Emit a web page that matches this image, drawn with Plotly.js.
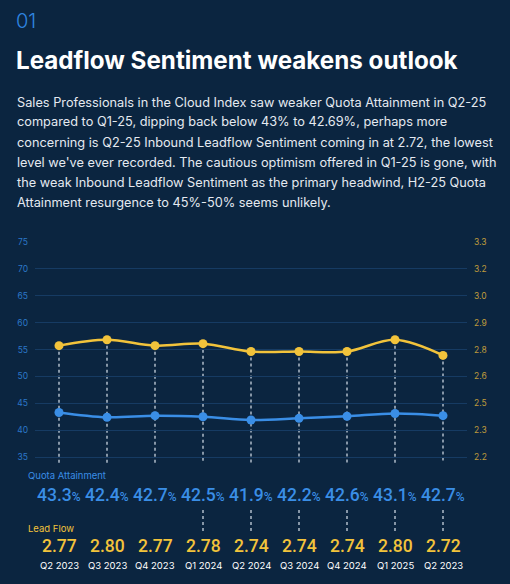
<!DOCTYPE html>
<html>
<head>
<meta charset="utf-8">
<script src="https://cdn.plot.ly/plotly-3.0.1.min.js"></script>
<style>
  html, body { margin:0; padding:0; background:#0b2540; }
  #chart { width:510px; height:584px; }
</style>
</head>
<body>
<div id="chart"></div>
<script>
// ---------- data ----------
const quarters = ['Q2 2023','Q3 2023','Q4 2023','Q1 2024','Q2 2024','Q3 2024','Q4 2024','Q1 2025','Q2 2023'];
const quotaAttainment = [43.3, 42.4, 42.7, 42.5, 41.9, 42.2, 42.6, 43.1, 42.7];
const leadFlow = [2.77, 2.80, 2.77, 2.78, 2.74, 2.74, 2.74, 2.80, 2.72];
const leftTicks = [35, 40, 45, 50, 55, 60, 65, 70, 75];
const rightTickLabels = ['2.2','2.3','2.5','2.6','2.8','2.9','3.0','3.2','3.3'];
const lowerConnector = [false, false, false, true, true, true, true, true, true];
const headerNumber = '01';
const titleText = 'Leadflow Sentiment weakens outlook';
const paragraphLines = [
  'Sales Professionals in the Cloud Index saw weaker Quota Attainment in Q2-25',
  'compared to Q1-25, dipping back below 43% to 42.69%, perhaps more',
  'concerning is Q2-25 Inbound Leadflow Sentiment coming in at 2.72, the lowest',
  "level we've ever recorded. The cautious optimism offered in Q1-25 is gone, with",
  'the weak Inbound Leadflow Sentiment as the primary headwind, H2-25 Quota',
  'Attainment resurgence to 45%-50% seems unlikely.'
];

// ---------- layout geometry ----------
const W = 510, H = 584;
const M = {l: 35, r: 43, t: 242, b: 121};
const PW = W - M.l - M.r, PH = H - M.t - M.b;
const px2x = px => (px - M.l) / PW;
const py2y = py => (H - M.b - py) / PH;

const leftRange = [33.9, 75];
const rMin = 2.2, rMax = 3.3;
const toRight = v => rMin + (v - leftTicks[0]) / (leftTicks[leftTicks.length-1] - leftTicks[0]) * (rMax - rMin);
const rightRange = [toRight(leftRange[0]), rMax];
const rightTickVals = rightTickLabels.map((_, i) => rMin + i * (rMax - rMin) / (rightTickLabels.length - 1));

const idx = quarters.map((_, i) => i);

const BLUE = '#3a8ee6', YELLOW = '#f2c33b', BG = '#0b2540';
const FONT = 'Inter, "Noto Sans", sans-serif';
const NUMFONT = 'Roboto, Inter, sans-serif';

const traces = [
  {
    x: idx, y: quotaAttainment, type: 'scatter', mode: 'lines+markers',
    line: {color: BLUE, width: 2.5, shape: 'spline'},
    marker: {color: BLUE, size: 9},
    hoverinfo: 'skip', yaxis: 'y'
  },
  {
    x: idx, y: leadFlow, type: 'scatter', mode: 'lines+markers',
    line: {color: YELLOW, width: 2.5, shape: 'spline'},
    marker: {color: YELLOW, size: 9},
    hoverinfo: 'skip', yaxis: 'y2'
  }
];

const DOT = {color: 'rgba(205,214,226,0.85)', width: 1.5, dash: 'dot'};
const shapes = [];
idx.forEach(i => {
  shapes.push({
    type: 'line', xref: 'x', yref: 'y2', x0: i, x1: i,
    y0: leadFlow[i], y1: rightRange[0], line: DOT, layer: 'below'
  });
  if (lowerConnector[i]) {
    shapes.push({
      type: 'line', xref: 'x', yref: 'paper', x0: i, x1: i,
      y0: py2y(510), y1: py2y(532), line: DOT
    });
  }
});

const ann = [];
ann.push({xref:'paper', yref:'paper', x: px2x(14), y: py2y(21), xanchor:'left', yanchor:'middle',
  text: headerNumber, showarrow:false, font:{family: FONT, size: 20, color: '#2f86e0', weight: 300}});
ann.push({xref:'paper', yref:'paper', x: px2x(14), y: py2y(60), xanchor:'left', yanchor:'middle',
  text: '<b>' + titleText + '</b>', showarrow:false, font:{family: FONT, size: 24.2, color: '#ffffff'}});
paragraphLines.forEach((ln, i) => {
  ann.push({xref:'paper', yref:'paper', x: px2x(15), y: py2y(102 + i * 20), xanchor:'left', yanchor:'middle',
    text: ln, showarrow:false, font:{family: FONT, size: 12.75, color: '#e4e9f0'}});
});
ann.push({xref:'paper', yref:'paper', x: px2x(26), y: py2y(475), xanchor:'left', yanchor:'middle',
  text: 'Quota Attainment', showarrow:false, font:{family: FONT, size: 9.5, color: BLUE}});
ann.push({xref:'paper', yref:'paper', x: px2x(26), y: py2y(528), xanchor:'left', yanchor:'middle',
  text: 'Lead Flow', showarrow:false, font:{family: FONT, size: 9.5, color: YELLOW}});
idx.forEach(i => {
  ann.push({xref:'x', yref:'paper', x: i, y: py2y(495), xanchor:'center', yanchor:'middle',
    text: quotaAttainment[i].toFixed(1) + "<span style='font-size:12px'>%</span>", showarrow:false,
    font:{family: NUMFONT, size: 17.5, color: BLUE, weight: 500}});
  ann.push({xref:'x', yref:'paper', x: i, y: py2y(546), xanchor:'center', yanchor:'middle',
    text: leadFlow[i].toFixed(2), showarrow:false,
    font:{family: NUMFONT, size: 17.5, color: YELLOW, weight: 500}});
  ann.push({xref:'x', yref:'paper', x: i, y: py2y(565), xanchor:'center', yanchor:'middle',
    text: quarters[i], showarrow:false,
    font:{family: FONT, size: 9.5, color: '#ffffff'}});
});

const layout = {
  width: W, height: H,
  margin: M,
  paper_bgcolor: BG, plot_bgcolor: BG,
  showlegend: false,
  xaxis: {range: [-0.5, 8.5], showgrid: false, zeroline: false, showticklabels: false, showline: false, fixedrange: true},
  yaxis: {range: leftRange, tickvals: leftTicks, showgrid: true, gridcolor: '#163b63', gridwidth: 1,
    zeroline: false, showline: false, ticks: '', ticklabelstandoff: 6,
    tickfont: {family: FONT, size: 8.5, color: '#2c78c8'}},
  yaxis2: {range: rightRange, overlaying: 'y', side: 'right', tickvals: rightTickVals, ticktext: rightTickLabels,
    showgrid: false, zeroline: false, showline: false, ticks: '', ticklabelstandoff: 6,
    tickfont: {family: FONT, size: 8.5, color: '#bf9b3c'}},
  shapes: shapes,
  annotations: ann
};

Plotly.newPlot('chart', traces, layout, {staticPlot: true, displayModeBar: false});
</script>
</body>
</html>
